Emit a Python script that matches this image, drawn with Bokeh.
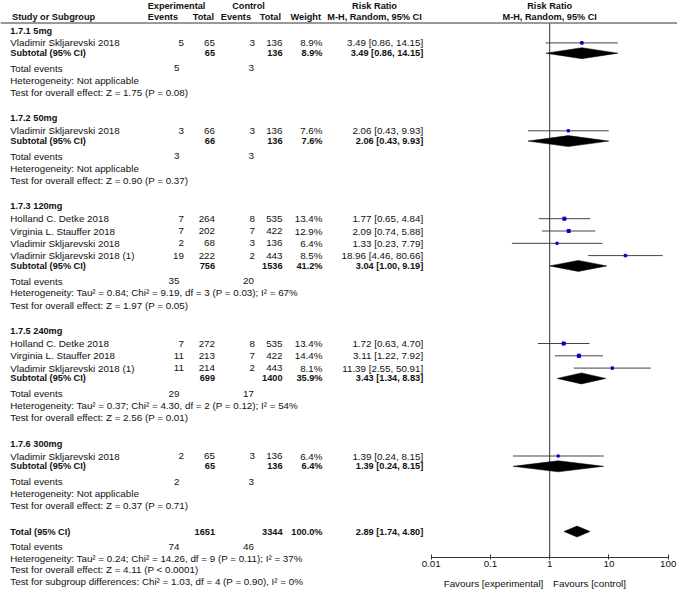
import numpy as np
from bokeh.plotting import figure
from bokeh.models import ColumnDataSource, Range1d, Span, FixedTicker, LogAxis
from bokeh.core.properties import value
from bokeh.embed import file_html
from bokeh.resources import INLINE

# ---------------- data ----------------
subgroup_labels = ["1.7.1 5mg", "1.7.2 50mg", "1.7.3 120mg", "1.7.5 240mg", "1.7.6 300mg"]
study_group = [0, 1, 2, 2, 2, 2, 3, 3, 3, 4]
study_names = ["Vladimir Skljarevski 2018", "Vladimir Skljarevski 2018",
               "Holland C. Detke 2018", "Virginia L. Stauffer 2018",
               "Vladimir Skljarevski 2018", "Vladimir Skljarevski 2018 (1)",
               "Holland C. Detke 2018", "Virginia L. Stauffer 2018",
               "Vladimir Skljarevski 2018 (1)", "Vladimir Skljarevski 2018"]
exp_events = [5, 3, 7, 7, 2, 19, 7, 11, 11, 2]
exp_total = [65, 66, 264, 202, 68, 222, 272, 213, 214, 65]
ctl_events = [3, 3, 8, 7, 3, 2, 8, 7, 2, 3]
ctl_total = [136, 136, 535, 422, 136, 443, 535, 422, 443, 136]
weight = [8.9, 7.6, 13.4, 12.9, 6.4, 8.5, 13.4, 14.4, 8.1, 6.4]
rr = [3.49, 2.06, 1.77, 2.09, 1.33, 18.96, 1.72, 3.11, 11.39, 1.39]
rr_lo = [0.86, 0.43, 0.65, 0.74, 0.23, 4.46, 0.63, 1.22, 2.55, 0.24]
rr_hi = [14.15, 9.93, 4.84, 5.88, 7.79, 80.66, 4.70, 7.92, 50.91, 8.15]

sub_exp_total = [65, 66, 756, 699, 65]
sub_ctl_total = [136, 136, 1536, 1400, 136]
sub_weight = [8.9, 7.6, 41.2, 35.9, 6.4]
sub_rr = [3.49, 2.06, 3.04, 3.43, 1.39]
sub_lo = [0.86, 0.43, 1.00, 1.34, 0.24]
sub_hi = [14.15, 9.93, 9.19, 8.83, 8.15]
sub_exp_events = [5, 3, 35, 29, 2]
sub_ctl_events = [3, 3, 20, 17, 3]
sub_het = ["Heterogeneity: Not applicable",
           "Heterogeneity: Not applicable",
           "Heterogeneity: Tau\u00b2 = 0.84; Chi\u00b2 = 9.19, df = 3 (P = 0.03); I\u00b2 = 67%",
           "Heterogeneity: Tau\u00b2 = 0.37; Chi\u00b2 = 4.30, df = 2 (P = 0.12); I\u00b2 = 54%",
           "Heterogeneity: Not applicable"]
sub_test = ["Test for overall effect: Z = 1.75 (P = 0.08)",
            "Test for overall effect: Z = 0.90 (P = 0.37)",
            "Test for overall effect: Z = 1.97 (P = 0.05)",
            "Test for overall effect: Z = 2.56 (P = 0.01)",
            "Test for overall effect: Z = 0.37 (P = 0.71)"]

total_exp_total = 1651
total_ctl_total = 3344
total_weight = 100.0
total_rr, total_lo, total_hi = 2.89, 1.74, 4.80
total_exp_events, total_ctl_events = 74, 46
total_het = "Heterogeneity: Tau\u00b2 = 0.24; Chi\u00b2 = 14.26, df = 9 (P = 0.11); I\u00b2 = 37%"
total_test = "Test for overall effect: Z = 4.11 (P < 0.0001)"
subgroup_diff = "Test for subgroup differences: Chi\u00b2 = 1.03, df = 4 (P = 0.90), I\u00b2 = 0%"

axis_ticks = [0.01, 0.1, 1, 10, 100]
tick_labels = ["0.01", "0.1", "1", "10", "100"]
NULL_RR = 1
favours_labels = ["Favours [experimental]", "Favours [control]"]

# ---------------- layout (pixel positions) ----------------
W, H = 677, 590
FONT = "Liberation Sans"
FS = "9.8px"
FS_B = "9.2px"
TXT = "#111111"

AXIS_Y = 557.2               # pixel row of the forest axis
FAV_AXIS_Y = 569.5           # pixel row of the (invisible) "Favours" axis
PX_LO, PX_HI = 430.7, 667.7  # pixel x of 0.01 and 100
DEC = (PX_HI - PX_LO) / 4.0
LOG0 = -2 - PX_LO / DEC
LOG1 = LOG0 + W / DEC


def X(px):
    """pixel x -> data x on the log axis"""
    return 10 ** (LOG0 + px / DEC)


C_NAME, C_EE, C_ET, C_CE, C_CT, C_W, C_CI = 9.8, 183.5, 214.5, 254.5, 282.0, 322.0, 422.7
C_TE_E, C_TE_C = 179.0, 253.5
Y_H1, Y_H2, Y_RULE = 5.5, 16.7, 22.5
FAV_CENTERS = [493.0, 589.0]

n = len(study_names)
title_y, sub_y, te_y, het_y, z_y = [], [], [], [], []
study_y = [0.0] * n
y = 30.0
for g in range(len(subgroup_labels)):
    title_y.append(y)
    idx = [i for i in range(n) if study_group[i] == g]
    y += 12.4
    for k, i in enumerate(idx):
        if k:
            y += 12.3
        study_y[i] = y
    y += 10.3
    sub_y.append(y)
    y += 15.2
    te_y.append(y)
    y += 11.8
    het_y.append(y)
    y += 12.2
    z_y.append(y)
    y += 26.0
tot_y = y
tot_te_y = tot_y + 15.0
tot_het_y = tot_te_y + 11.6
tot_z_y = tot_het_y + 11.7
diff_y = tot_z_y + 11.7

p = figure(width=W, height=H, x_axis_type="log",
           x_range=Range1d(10 ** LOG0, 10 ** LOG1), y_range=Range1d(H, 0),
           y_axis_location=None, output_backend="svg", toolbar_location=None, min_border=0)
p.outline_line_color = None
p.xgrid.visible = False
p.ygrid.visible = False
p.background_fill_color = "white"
p.border_fill_color = "white"
p.min_border_left = 0
p.min_border_right = 0
p.min_border_top = 0
p.min_border_bottom = 0

ax = p.xaxis[0]
ax.fixed_location = AXIS_Y
ax.ticker = FixedTicker(ticks=axis_ticks, minor_ticks=[])
ax.bounds = (axis_ticks[0], axis_ticks[-1])
ax.major_label_overrides = {t: l for t, l in zip(axis_ticks, tick_labels)}
ax.axis_line_color = "#333333"
ax.major_tick_line_color = "#333333"
ax.major_tick_in = 3
ax.major_tick_out = 2
ax.minor_tick_line_color = None
ax.major_label_text_font = FONT
ax.major_label_text_font_size = FS
ax.major_label_text_color = TXT
ax.major_label_standoff = 1

fav_ticks = [X(c) for c in FAV_CENTERS]
fav_axis = LogAxis(fixed_location=FAV_AXIS_Y,
                   ticker=FixedTicker(ticks=fav_ticks, minor_ticks=[]),
                   major_label_overrides={t: l for t, l in zip(fav_ticks, favours_labels)},
                   axis_line_color=None, major_tick_line_color=None,
                   minor_tick_line_color=None, major_label_standoff=2,
                   major_label_text_font=FONT, major_label_text_font_size=FS,
                   major_label_text_color=TXT)
p.add_layout(fav_axis, "below")

p.add_layout(Span(location=Y_RULE, dimension="width", line_color="#777777", line_width=1.5))

p.segment(x0=[NULL_RR], y0=[Y_RULE], x1=[NULL_RR], y1=[AXIS_Y], line_color="#333333", line_width=1)

src = ColumnDataSource(dict(rr=rr, lo=rr_lo, hi=rr_hi, y=study_y,
                            s=[0.85 * np.sqrt(w) for w in weight]))
p.segment(x0="lo", y0="y", x1="hi", y1="y", source=src, line_color="#444444", line_width=1)
p.scatter(x="rr", y="y", size="s", marker="square", source=src,
          fill_color="#0000cc", line_color="#0000cc")

DH = 5.5
d_rr = sub_rr + [total_rr]
d_lo = sub_lo + [total_lo]
d_hi = sub_hi + [total_hi]
d_y = sub_y + [tot_y]
xs = [[lo, e, hi, e] for lo, e, hi in zip(d_lo, d_rr, d_hi)]
ys = [[yy, yy - DH, yy, yy + DH] for yy in d_y]
p.patches(xs=xs, ys=ys, fill_color="black", line_color="black", line_width=0.5)

# ---------------- texts ----------------
entries = []


def add(xd, yr, txt, align="left", bold=False):
    entries.append((xd, yr, txt, align, bold))


def ci_txt(e, lo, hi):
    return "%.2f [%.2f, %.2f]" % (e, lo, hi)


add(X(176), Y_H1, "Experimental", "center", True)
add(X(248), Y_H1, "Control", "center", True)
add(X(374), Y_H1, "Risk Ratio", "center", True)
add(NULL_RR, Y_H1, "Risk Ratio", "center", True)
add(X(11.5), Y_H2, "Study or Subgroup", "left", True)
add(X(177.5), Y_H2, "Events", "right", True)
add(X(213.5), Y_H2, "Total", "right", True)
add(X(250.5), Y_H2, "Events", "right", True)
add(X(280.5), Y_H2, "Total", "right", True)
add(X(320.5), Y_H2, "Weight", "right", True)
add(X(374), Y_H2, "M-H, Random, 95% CI", "center", True)
add(NULL_RR, Y_H2, "M-H, Random, 95% CI", "center", True)

for g, lab in enumerate(subgroup_labels):
    add(X(C_NAME), title_y[g], lab, "left", True)
for i in range(n):
    yy = study_y[i]
    add(X(C_NAME), yy, study_names[i])
    add(X(C_EE), yy, str(exp_events[i]), "right")
    add(X(C_ET), yy, str(exp_total[i]), "right")
    add(X(C_CE), yy, str(ctl_events[i]), "right")
    add(X(C_CT), yy, str(ctl_total[i]), "right")
    add(X(C_W), yy, "%.1f%%" % weight[i], "right")
    add(X(C_CI), yy, ci_txt(rr[i], rr_lo[i], rr_hi[i]), "right")
for g in range(len(subgroup_labels)):
    add(X(C_NAME), sub_y[g], "Subtotal (95% CI)", "left", True)
    add(X(C_ET), sub_y[g], str(sub_exp_total[g]), "right", True)
    add(X(C_CT), sub_y[g], str(sub_ctl_total[g]), "right", True)
    add(X(C_W), sub_y[g], "%.1f%%" % sub_weight[g], "right", True)
    add(X(C_CI), sub_y[g], ci_txt(sub_rr[g], sub_lo[g], sub_hi[g]), "right", True)
    add(X(C_NAME), te_y[g], "Total events")
    add(X(C_TE_E), te_y[g], str(sub_exp_events[g]), "right")
    add(X(C_TE_C), te_y[g], str(sub_ctl_events[g]), "right")
    add(X(C_NAME), het_y[g], sub_het[g])
    add(X(C_NAME), z_y[g], sub_test[g])

add(X(C_NAME), tot_y, "Total (95% CI)", "left", True)
add(X(C_ET), tot_y, str(total_exp_total), "right", True)
add(X(C_CT), tot_y, str(total_ctl_total), "right", True)
add(X(C_W), tot_y, "%.1f%%" % total_weight, "right", True)
add(X(C_CI), tot_y, ci_txt(total_rr, total_lo, total_hi), "right", True)
add(X(C_NAME), tot_te_y, "Total events")
add(X(C_TE_E), tot_te_y, str(total_exp_events), "right")
add(X(C_TE_C), tot_te_y, str(total_ctl_events), "right")
add(X(C_NAME), tot_het_y, total_het)
add(X(C_NAME), tot_z_y, total_test)
add(X(C_NAME), diff_y, subgroup_diff)

groups = {}
for xd, yr, txt, al, b in entries:
    groups.setdefault((al, b), []).append((xd, yr, txt))
for (al, b), items in groups.items():
    s = ColumnDataSource(dict(x=[it[0] for it in items], y=[it[1] for it in items],
                              t=[it[2] for it in items]))
    p.text(x="x", y="y", text="t", source=s, text_align=al, text_baseline="middle",
           text_font=value(FONT), text_font_size=value(FS_B if b else FS),
           text_font_style=value("bold" if b else "normal"), text_color=TXT)

open("out.html", "w").write(file_html(p, INLINE))
